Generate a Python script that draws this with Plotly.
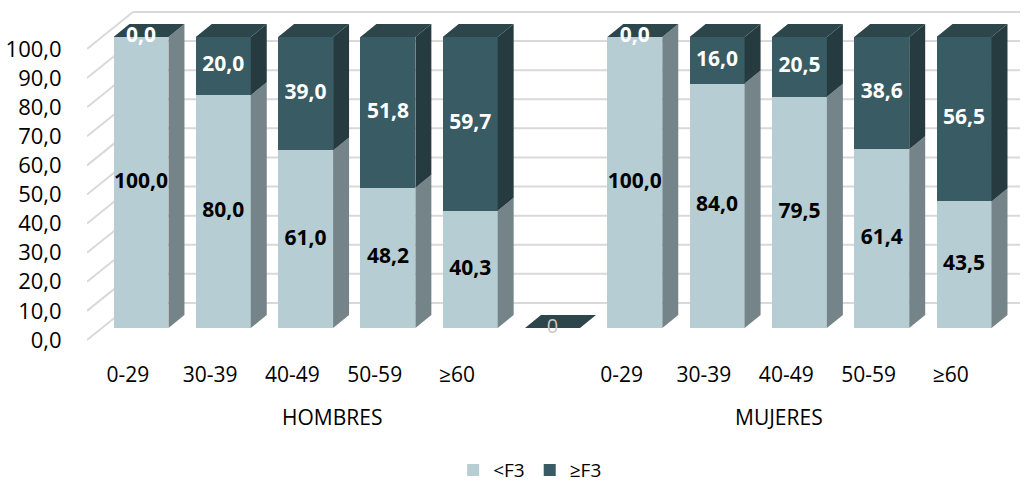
import plotly.graph_objects as go

# ---------------- data ----------------
categories = ["0-29", "30-39", "40-49", "50-59", "≥60"]
groups = ["HOMBRES", "MUJERES"]
series_names = ["<F3", "≥F3"]
hombres_lt = [100.0, 80.0, 61.0, 48.2, 40.3]
hombres_ge = [0.0, 20.0, 39.0, 51.8, 59.7]
mujeres_lt = [100.0, 84.0, 79.5, 61.4, 43.5]
mujeres_ge = [0.0, 16.0, 20.5, 38.6, 56.5]
gap_value = 0
tick_values = [0, 10, 20, 30, 40, 50, 60, 70, 80, 90, 100]

# ---------------- styles / layout ----------------
C_LT = "#b5cdd3"
C_LT_SIDE = "#758488"
C_GE = "#395b63"
C_GE_SIDE = "#263b40"
C_TOP = "#2d464c"
GRID = "#d9d9d9"
FONT = "Open Sans"

BAR_W = 0.668      # front face width (slot units)
DX = 0.194         # bar depth, x
DY = 4.47          # bar depth, y (value units)
WALL_X0 = -0.656   # front edge of left wall
WALL_X1 = -0.097   # back edge of left wall
WALL_FRONT = -4.12 # front edge offset (value units)
WALL_BACK = 8.6    # back wall offset (value units)
X_MAX = 10.68
LABEL_SHIFT = -0.16

# slots: hombres 0..4, gap 5, mujeres 6..10
slots = list(range(11))
lt = hombres_lt + [gap_value] + mujeres_lt
ge = hombres_ge + [gap_value] + mujeres_ge
is_gap = [False] * 5 + [True] + [False] * 5

def fmt(v):
    return f"{v:.1f}".replace(".", ",")

fig = go.Figure()

fig.add_trace(go.Bar(x=slots, y=lt, width=BAR_W, name=series_names[0],
                     marker=dict(color=C_LT, line=dict(width=0)), hoverinfo="skip"))
fig.add_trace(go.Bar(x=slots, y=ge, width=BAR_W, name=series_names[1],
                     marker=dict(color=C_GE, line=dict(width=0)), hoverinfo="skip"))

# 3D faces
side_lt_x, side_lt_y, side_ge_x, side_ge_y, top_x, top_y = [], [], [], [], [], []
for c, a, b in zip(slots, lt, ge):
    r = c + BAR_W / 2
    l = c - BAR_W / 2
    if a > 0:
        side_lt_x += [r, r + DX, r + DX, r, r, None]
        side_lt_y += [0, DY, a + DY, a, 0, None]
    if b > 0:
        side_ge_x += [r, r + DX, r + DX, r, r, None]
        side_ge_y += [a, a + DY, a + b + DY, a + b, a, None]
    t = a + b
    top_x += [l, l + DX, r + DX, r, l, None]
    top_y += [t, t + DY, t + DY, t, t, None]

for xs, ys, col in [(side_lt_x, side_lt_y, C_LT_SIDE), (side_ge_x, side_ge_y, C_GE_SIDE),
                    (top_x, top_y, C_TOP)]:
    fig.add_trace(go.Scatter(x=xs, y=ys, fill="toself", fillcolor=col, mode="lines",
                             line=dict(width=0, color=col), showlegend=False, hoverinfo="skip"))

# data labels
lx, ly, lt_txt = [], [], []
gx, gy, ge_txt = [], [], []
zx, zy, z_txt = [], [], []
for c, a, b, g in zip(slots, lt, ge, is_gap):
    if g:
        zx.append(c); zy.append(a + b / 2); z_txt.append(str(int(b)))
        continue
    lx.append(c); ly.append(a / 2); lt_txt.append(fmt(a))
    gx.append(c); gy.append(a + b / 2); ge_txt.append(fmt(b))

fig.add_trace(go.Scatter(x=lx, y=ly, text=lt_txt, mode="text", showlegend=False, hoverinfo="skip",
                         textfont=dict(family=FONT, size=21, color="#000000", weight="bold")))
fig.add_trace(go.Scatter(x=gx, y=gy, text=ge_txt, mode="text", showlegend=False, hoverinfo="skip",
                         textfont=dict(family=FONT, size=21, color="#ffffff", weight="bold")))
fig.add_trace(go.Scatter(x=zx, y=zy, text=z_txt, mode="text", showlegend=False, hoverinfo="skip",
                         textfont=dict(family=FONT, size=20, color="#c8c8c8")))

# invisible trace on label axis
fig.add_trace(go.Scatter(x=[None], y=[None], yaxis="y2", showlegend=False, hoverinfo="skip"))

# wall gridlines
shapes = []
for v in tick_values:
    shapes.append(dict(type="line", xref="x", yref="y", layer="below",
                       x0=WALL_X0, y0=v + WALL_FRONT, x1=WALL_X1, y1=v + WALL_BACK,
                       line=dict(color=GRID, width=2)))
    shapes.append(dict(type="line", xref="x", yref="y", layer="below",
                       x0=WALL_X1, y0=v + WALL_BACK, x1=X_MAX, y1=v + WALL_BACK,
                       line=dict(color=GRID, width=2)))

y_lo, y_hi = -7.56, 111.34

tickvals_x = [s + LABEL_SHIFT for s, g in zip(slots, is_gap) if not g]
ticktext_x = categories + categories

annotations = [
    dict(text=groups[0], x=2.32, y=-0.193, xref="x", yref="paper", showarrow=False,
         font=dict(family=FONT, size=21, color="#000000"), yanchor="middle"),
    dict(text=groups[1], x=7.75, y=-0.193, xref="x", yref="paper", showarrow=False,
         font=dict(family=FONT, size=21, color="#000000"), yanchor="middle"),
]

fig.update_layout(
    width=1024, height=485,
    margin=dict(l=87, r=4, t=4, b=135, autoexpand=False),
    paper_bgcolor="#ffffff", plot_bgcolor="#ffffff",
    barmode="stack", bargap=0,
    separators=",.",
    font=dict(family=FONT, size=21, color="#000000"),
    xaxis=dict(range=[WALL_X0, X_MAX], showgrid=False, zeroline=False, showline=False,
               automargin=False,
               tickvals=tickvals_x, ticktext=ticktext_x, ticks="outside", ticklen=6,
               tickcolor="rgba(0,0,0,0)", tickfont=dict(family=FONT, size=21, color="#000000")),
    yaxis=dict(range=[y_lo, y_hi], visible=False, showgrid=False, zeroline=False,
               automargin=False),
    yaxis2=dict(range=[y_lo - WALL_FRONT, y_hi - WALL_FRONT], overlaying="y", side="left",
                automargin=False,
                showgrid=False, zeroline=False, showline=False, tickvals=tick_values,
                tickformat=".1f", ticks="outside", ticklen=20, tickcolor="rgba(0,0,0,0)",
                tickfont=dict(family=FONT, size=22, color="#000000")),
    showlegend=True,
    legend=dict(orientation="h", x=0.475, xanchor="center", y=-0.347, yanchor="middle",
                traceorder="normal", itemwidth=30,
                font=dict(family=FONT, size=19, color="#000000"), bgcolor="rgba(0,0,0,0)"),
    shapes=shapes,
    annotations=annotations,
)

fig.write_html("out.html", config={"displayModeBar": False},
               post_script="document.body.style.margin='0';document.body.style.overflow='hidden';")
